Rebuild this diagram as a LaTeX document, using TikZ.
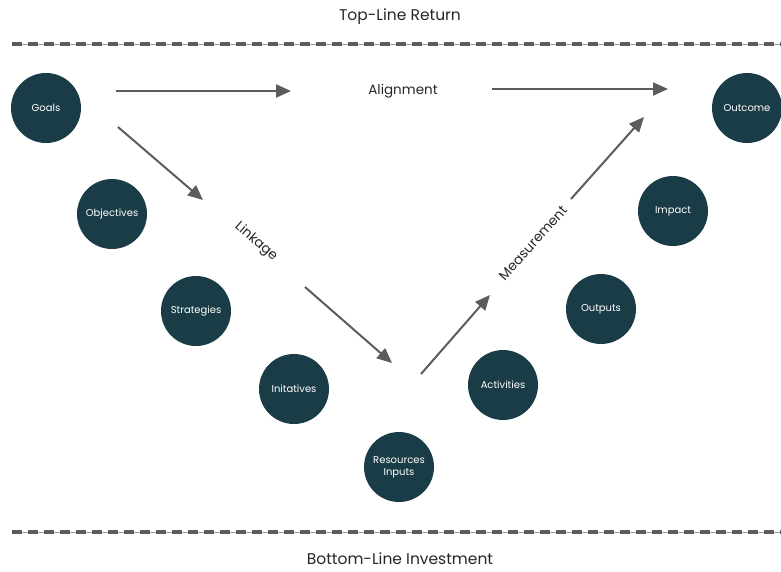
\documentclass[tikz,border=0pt]{standalone}
\usepackage{fontspec}
\setmainfont{Poppins}
\usetikzlibrary{arrows.meta}
\definecolor{tealdark}{HTML}{1A3C46}
\definecolor{arrowgrey}{HTML}{5C5C5C}
\tikzset{
	stage/.style={circle, fill=tealdark, minimum size=70pt, inner sep=0pt, text=white, font=\fontsize{10}{12}\selectfont, align=center},
	flow/.style={draw=arrowgrey, line width=2pt, -{Triangle[length=15pt,width=13pt]}},
	caption/.style={font=\fontsize{15.5}{18}\selectfont, text=black!85},
	tag/.style={font=\fontsize{13.5}{16}\selectfont, text=black!85, inner sep=1pt}
}
\begin{document}
\begin{tikzpicture}[x=1pt, y=-1pt]
	\useasboundingbox (0,0) rectangle (781,571);
	% limits
	\def\xmin{12}
	\def\xmax{781}
	\def\ytop{44}
	\def\ybot{532}
	
	% lines
	\draw[black!40, line width=1pt] (\xmin, \ytop) -- (\xmax, \ytop);
	\draw[black!40, line width=1pt] (\xmin, \ybot) -- (\xmax, \ybot);
	\draw[arrowgrey, line width=3.5pt, dash pattern=on 10pt off 6pt] (\xmin, \ytop) -- (\xmax, \ytop);
	\draw[arrowgrey, line width=3.5pt, dash pattern=on 10pt off 6pt] (\xmin, \ybot) -- (\xmax, \ybot);
	\node[caption] (top) at (400, 17) {Top-Line Return};
	\node[caption] (bottom) at (400, 559) {Bottom-Line Investment};
	
	% stages
	\node[stage] (goals) at (46, 108) {Goals};
	\node[stage] (objectives) at (112, 214) {Objectives};
	\node[stage] (strategies) at (196, 311) {Strategies};
	\node[stage] (initatives) at (294, 389) {Initatives};
	\node[stage] (resources) at (399, 467) {Resources\\Inputs};
	\node[stage] (activities) at (503, 385) {Activities};
	\node[stage] (outputs) at (601, 309) {Outputs};
	\node[stage] (impact) at (673, 211) {Impact};
	\node[stage] (outcome) at (747, 108) {Outcome};
	
	% labels
	\node[tag] (alignment) at (403, 91) {Alignment};
	\node[tag, rotate=-41] (linkage) at (256, 242) {Linkage};
	\node[tag, rotate=48] (measurement) at (533, 243) {Measurement};
	
	% arrows
	\coordinate (a1) at (116, 91);  \coordinate (a2) at (291, 91);
	\coordinate (a3) at (492, 89);  \coordinate (a4) at (668, 89);
	\coordinate (l1) at (118, 127); \coordinate (l2) at (203, 200);
	\coordinate (l3) at (305, 287); \coordinate (l4) at (392, 363);
	\coordinate (m1) at (421, 374); \coordinate (m2) at (490, 295);
	\coordinate (m3) at (571, 199); \coordinate (m4) at (644, 117);
	\draw[flow] (a1) -- (a2);
	\draw[flow] (a3) -- (a4);
	\draw[flow] (l1) -- (l2);
	\draw[flow] (l3) -- (l4);
	\draw[flow] (m1) -- (m2);
	\draw[flow] (m3) -- (m4);
\end{tikzpicture}
\end{document}
